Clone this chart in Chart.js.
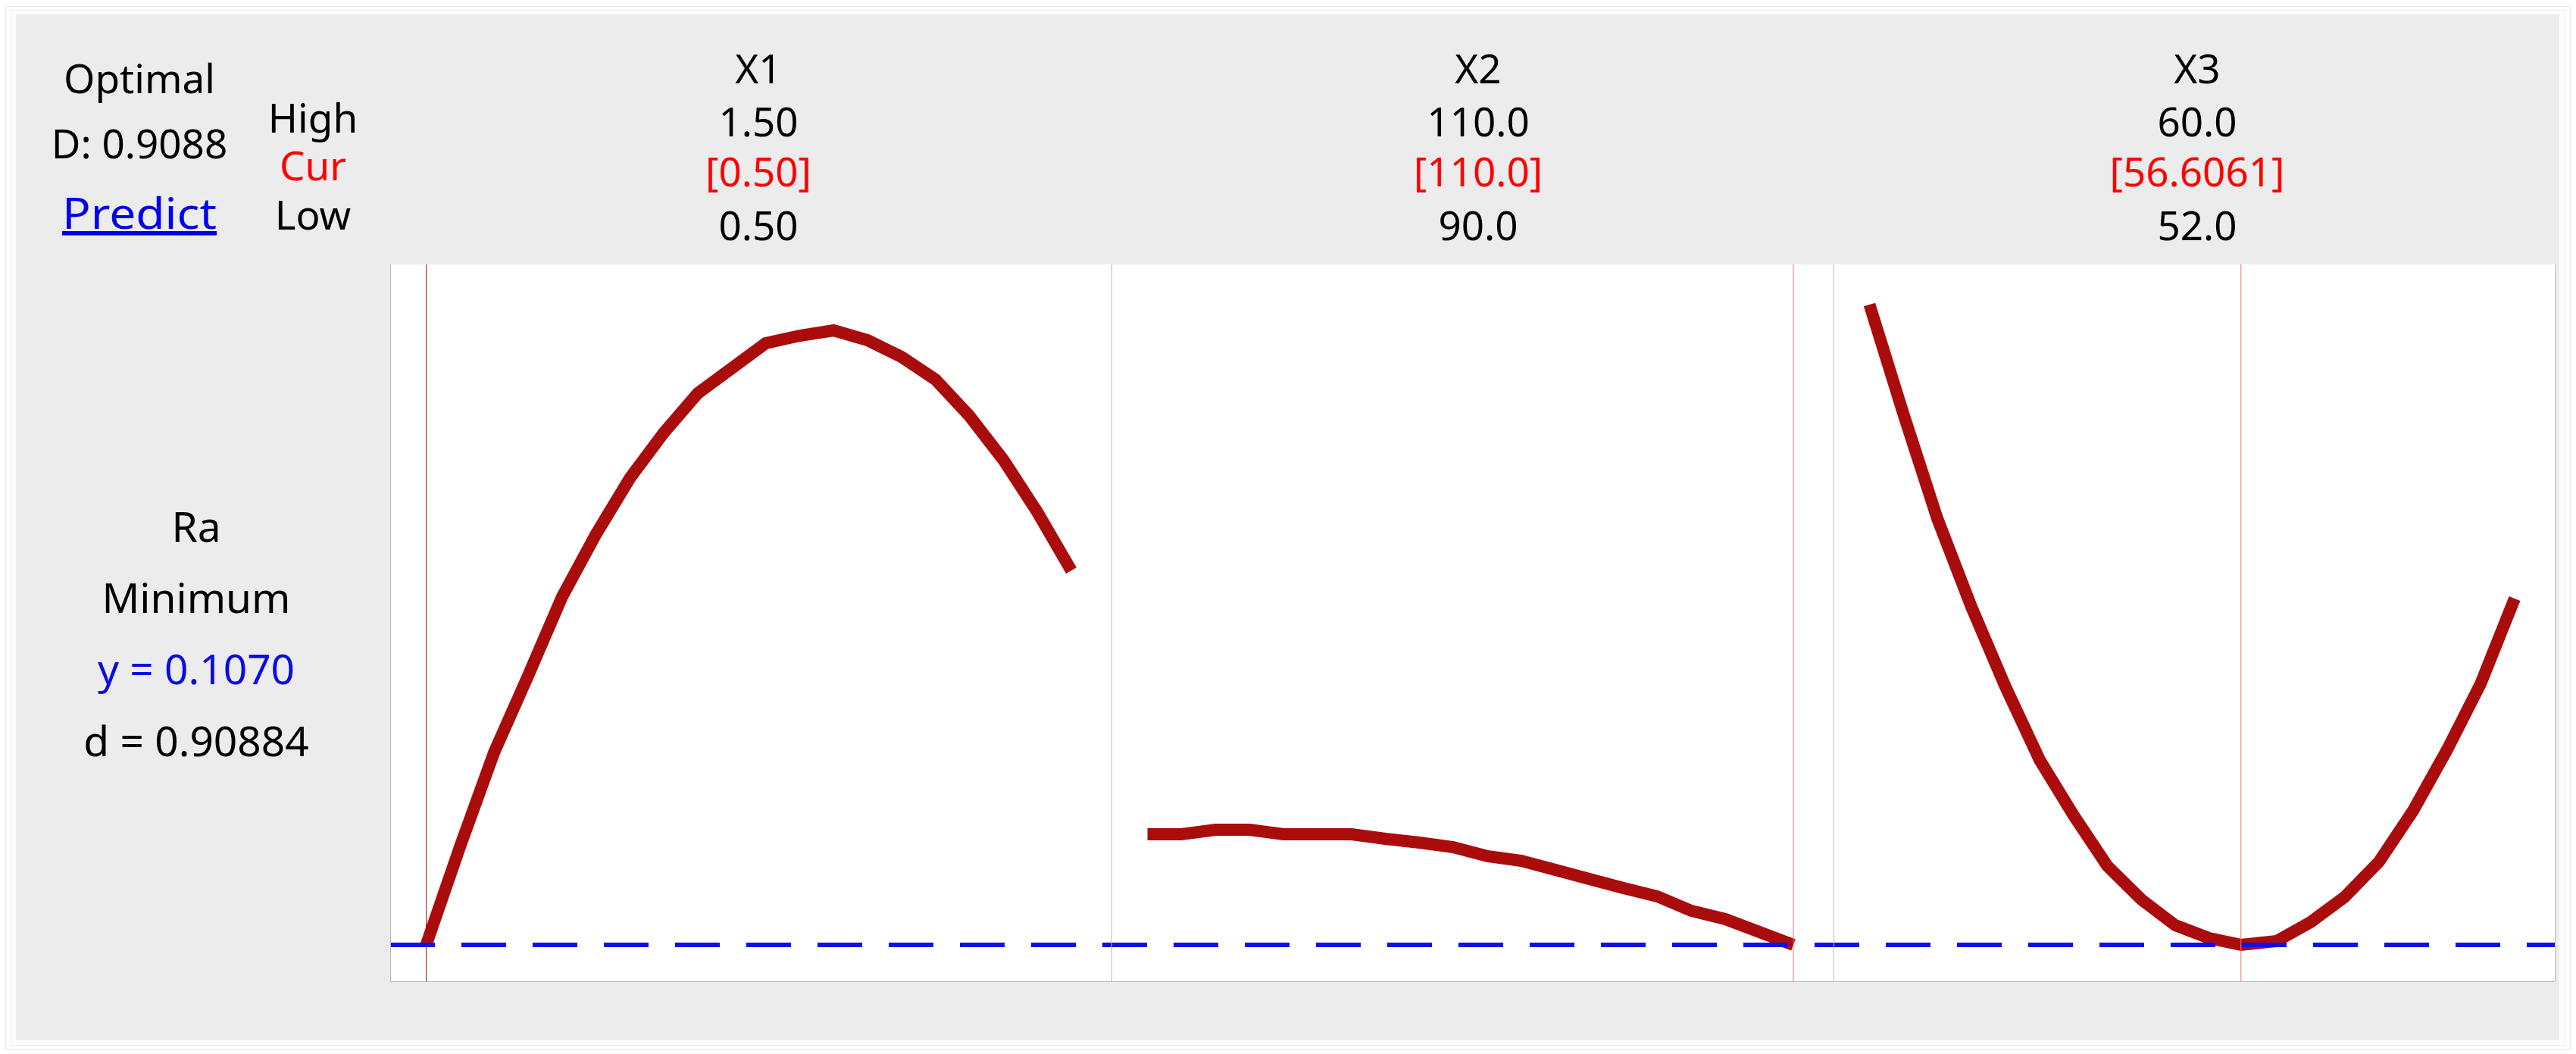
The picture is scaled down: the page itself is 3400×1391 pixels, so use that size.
<!DOCTYPE html>
<html>
<head>
<meta charset="utf-8">
<script src="https://cdn.jsdelivr.net/npm/chart.js@4.4.0/dist/chart.umd.min.js"></script>
<style>
html, body { margin: 0; padding: 0; background: #fff; }
#page { position: relative; width: 3400px; height: 1391px; overflow: hidden; }
.frame { position: absolute; border: 1px solid #e8e8e8; box-sizing: border-box; }
#bg { position: absolute; left: 21px; top: 19px; width: 3357px; height: 1354px; background: #ececec; }
canvas { position: absolute; top: 349px; background: #fff; }
.ln { position: absolute; background: #b9b9b9; }
#txt { position: absolute; left: 0; top: 0; font-family: 'Noto Sans', sans-serif; }
</style>
</head>
<body>
<div id="page">
	<div class="frame" style="left:7px;top:8px;width:3386px;height:1378px;"></div>
	<div class="frame" style="left:14px;top:13px;width:3372px;height:1367px;"></div>
	<div id="bg"></div>
	<canvas id="c1" width="952" height="946" style="left:515px;width:952px;height:946px;"></canvas>
	<canvas id="c2" width="953" height="946" style="left:1467px;width:953px;height:946px;"></canvas>
	<canvas id="c3" width="952" height="946" style="left:2420px;width:952px;height:946px;"></canvas>
	<div class="ln" style="left:515px;top:349px;width:1px;height:947px;"></div>
	<div class="ln" style="left:1467px;top:349px;width:1px;height:947px;"></div>
	<div class="ln" style="left:2420px;top:349px;width:1px;height:947px;"></div>
	<div class="ln" style="left:3372px;top:349px;width:1px;height:947px;"></div>
	<div class="ln" style="left:515px;top:1295px;width:2858px;height:1px;"></div>
	<svg id="txt" width="3400" height="1391"></svg>
</div>
<script>
// factor settings
var factors = ['X1', 'X2', 'X3'];
var highLabels = ['1.50', '110.0', '60.0'];
var curLabels = ['[0.50]', '[110.0]', '[56.6061]'];
var lowLabels = ['0.50', '90.0', '52.0'];
var lows = [0.5, 90, 52];
var highs = [1.5, 110, 60];
var curs = [0.5, 110, 56.6061];

// response Ra along each factor
var x1 = [0.5000, 0.5526, 0.6053, 0.6579, 0.7105, 0.7632, 0.8158, 0.8684, 0.9211, 0.9737,
	1.0263, 1.0789, 1.1316, 1.1842, 1.2368, 1.2895, 1.3421, 1.3947, 1.4474, 1.5000];
var ra1 = [0.1070, 0.1590, 0.2086, 0.2490, 0.2906, 0.3238, 0.3534, 0.3774, 0.3982, 0.4114,
	0.4246, 0.4286, 0.4314, 0.4262, 0.4174, 0.4054, 0.3862, 0.3630, 0.3354, 0.3046];

var x2 = [90.00, 91.05, 92.11, 93.16, 94.21, 95.26, 96.32, 97.37, 98.42, 99.47,
	100.53, 101.58, 102.63, 103.68, 104.74, 105.79, 106.84, 107.89, 108.95, 110.00];
var ra2 = [0.1654, 0.1654, 0.1678, 0.1678, 0.1654, 0.1654, 0.1654, 0.1630, 0.1610, 0.1586,
	0.1538, 0.1514, 0.1466, 0.1418, 0.1370, 0.1326, 0.1250, 0.1206, 0.1138, 0.1070];

var x3 = [52.00, 52.42, 52.84, 53.26, 53.68, 54.11, 54.53, 54.95, 55.37, 55.79,
	56.21, 56.61, 57.05, 57.47, 57.89, 58.32, 58.74, 59.16, 59.58, 60.00];
var ra3 = [0.4450, 0.3874, 0.3322, 0.2858, 0.2438, 0.2046, 0.1754, 0.1486, 0.1310, 0.1174,
	0.1106, 0.1070, 0.1090, 0.1190, 0.1322, 0.1510, 0.1778, 0.2098, 0.2450, 0.2898];

var yOpt = 0.1070;
var dOpt = 0.90884;
var bigD = 0.9088;

// layout
var Y_MIN = 0.0878, Y_MAX = 0.4662;
var PAD_L = 47.5, PAD_R = 53;
var DASH = [59, 35], DASH_START = 515;

var xsAll = [x1, x2, x3];
var ysAll = [ra1, ra2, ra3];
var ids = ['c1', 'c2', 'c3'];
var lefts = [515, 1467, 2420];
var curColors = ['#b01010', '#ff6a6a', '#ff6a6a'];

for (var p = 0; p < 3; p++) {
	var canvas = document.getElementById(ids[p]);
	var w = canvas.width;
	var unit = (highs[p] - lows[p]) / (w - PAD_L - PAD_R);
	var xmin = lows[p] - PAD_L * unit;
	var xmax = xmin + w * unit;
	var pts = xsAll[p].map(function(x, i) { return {x: x, y: ysAll[p][i]}; });

	new Chart(canvas.getContext('2d'), {
		type: 'line',
		data: {
			datasets: [
			{
				data: [{x: xmin, y: yOpt}, {x: xmax, y: yOpt}],
				borderColor: '#1010e6',
				borderWidth: 6,
				borderDash: DASH,
				borderDashOffset: (lefts[p] - DASH_START) % (DASH[0] + DASH[1]),
				pointRadius: 0,
				order: 0
			},
			{
				data: [{x: curs[p], y: Y_MIN}, {x: curs[p], y: Y_MAX}],
				borderColor: curColors[p],
				borderWidth: 1,
				pointRadius: 0,
				order: 1
			},
			{
				data: pts,
				borderColor: '#aa0c0c',
				borderWidth: 16,
				borderJoinStyle: 'miter',
				pointRadius: 0,
				tension: 0,
				order: 2
			}]
		},
		options: {
			responsive: false,
			animation: false,
			layout: { padding: 0 },
			plugins: { legend: { display: false }, tooltip: { enabled: false } },
			scales: {
				x: { type: 'linear', display: false, min: xmin, max: xmax },
				y: { type: 'linear', display: false, min: Y_MIN, max: Y_MAX }
			}
		}
	});
}

// texts
var svg = document.getElementById('txt');
function addText(str, x, y, size, color, underline, len) {
	var t = document.createElementNS('http://www.w3.org/2000/svg', 'text');
	t.setAttribute('x', x);
	t.setAttribute('y', y);
	t.setAttribute('text-anchor', 'middle');
	t.setAttribute('font-size', size);
	t.setAttribute('fill', color || '#000');
	if (underline) t.setAttribute('text-decoration', 'underline');
	if (len) {
		t.setAttribute('textLength', len);
		t.setAttribute('lengthAdjust', 'spacingAndGlyphs');
	}
	t.textContent = str;
	svg.appendChild(t);
}

var HS = 53, LS = 55;
addText('Optimal', 184, 123, HS);
addText('D: ' + bigD.toFixed(4), 184, 209, HS);
addText('Predict', 184, 302, 56, '#0000ee', true, 204);
addText('High', 413, 175, HS);
addText('Cur', 413, 238, HS, '#ff0000');
addText('Low', 413, 303, HS);

var centers = [1001, 1951, 2900];
for (var k = 0; k < 3; k++) {
	addText(factors[k], centers[k], 110, HS);
	addText(highLabels[k], centers[k], 180, HS);
	addText(curLabels[k], centers[k], 246, HS, '#ff0000');
	addText(lowLabels[k], centers[k], 317, HS);
}

addText('Ra', 259, 715, LS);
addText('Minimum', 259, 809, LS);
addText('y = ' + yOpt.toFixed(4), 259, 903, LS, '#0a0ae6');
addText('d = ' + dOpt.toFixed(5), 259, 998, LS);
</script>
</body>
</html>
